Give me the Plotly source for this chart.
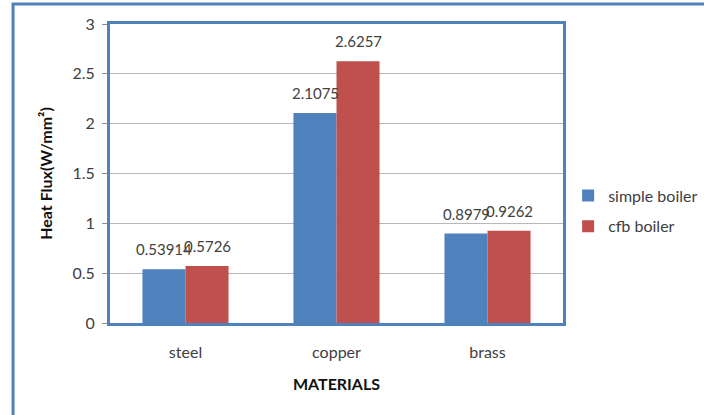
import plotly.graph_objects as go

categories = ["steel", "copper", "brass"]
simple_boiler = [0.53914, 2.1075, 0.8979]
cfb_boiler = [0.5726, 2.6257, 0.9262]
simple_labels = ["0.53914", "2.1075", "0.8979"]
cfb_labels = ["0.5726", "2.6257", "0.9262"]
y_ticks = [0, 0.5, 1, 1.5, 2, 2.5, 3]
y_tick_text = ["0", "0.5", "1", "1.5", "2", "2.5", "3"]

FONT = "Lato"
BLUE = "#4F81BD"
RED = "#C0504D"
TXT = "#404040"

fig = go.Figure()
fig.add_trace(go.Bar(name="simple boiler", x=categories, y=simple_boiler,
                     marker=dict(color=BLUE, line=dict(width=0)),
                     legendgroup="a"))
fig.add_trace(go.Bar(name="cfb boiler", x=categories, y=cfb_boiler,
                     marker=dict(color=RED, line=dict(width=0)),
                     legendgroup="b"))

# data labels above each bar
for series, labels, shift in ((simple_boiler, simple_labels, -21.5), (cfb_boiler, cfb_labels, 21.5)):
    for cat, val, lab in zip(categories, series, labels):
        fig.add_annotation(x=cat, y=val, text=lab, showarrow=False,
                           xshift=shift, yshift=9, yanchor="bottom",
                           font=dict(size=15, family=FONT, color=TXT))

fig.update_layout(
    width=704, height=415,
    margin=dict(l=110, r=141, t=24, b=92, autoexpand=False),
    paper_bgcolor="white", plot_bgcolor="white",
    barmode="group", bargap=0.43, bargroupgap=0,
    font=dict(family=FONT, size=16, color=TXT),
    showlegend=True,
    legend=dict(xref="container", yref="container", x=0.807, y=0.4916,
                xanchor="left", yanchor="middle",
                font=dict(size=16, family=FONT, color=TXT),
                traceorder="grouped", tracegroupgap=7, itemwidth=30),
)
fig.update_xaxes(
    showline=True, mirror=True, linecolor=BLUE, linewidth=3,
    ticks="", showgrid=False, ticklabelstandoff=13,
    tickfont=dict(size=16, family=FONT, color=TXT),
    title=dict(text="<b>MATERIALS</b>", font=dict(size=16, family=FONT, color="#111111"), standoff=19),
)
fig.update_yaxes(
    range=[0, 3], tickvals=y_ticks, ticktext=y_tick_text,
    showline=True, mirror=True, linecolor=BLUE, linewidth=3,
    ticks="outside", ticklen=5, tickcolor="#8c8c8c", ticklabelstandoff=4,
    showgrid=True, gridcolor="#b8b8b8", gridwidth=1, zeroline=False,
    tickfont=dict(size=16, family=FONT, color=TXT),
    title=dict(text="<b>Heat Flux(W/mm²)</b>", font=dict(size=16, family=FONT, color="#111111"), standoff=16),
)

# outer chart-area frame (extends beyond the visible window on right/bottom)
fig.add_shape(type="rect", xref="paper", yref="paper",
              x0=-0.214, x1=1.5, y0=-0.4, y1=1.067,
              line=dict(color=BLUE, width=3), fillcolor="rgba(0,0,0,0)", layer="below")

fig.write_html("out.html", config={"displayModeBar": False},
               post_script="document.body.style.margin='0';")
